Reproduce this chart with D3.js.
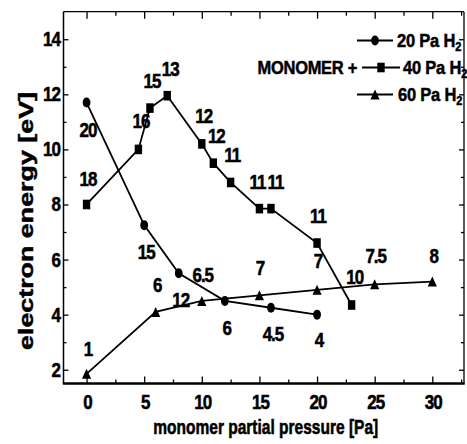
<!DOCTYPE html>
<html><head><meta charset="utf-8">
<script src="https://cdn.jsdelivr.net/npm/d3@7"></script>
<style>
html,body{margin:0;padding:0;background:#fff;}
svg{display:block;}
text{font-family:"Liberation Sans",Arial,sans-serif;font-weight:bold;fill:#000;stroke:#000;stroke-width:0.45px;}
</style></head><body>
<svg id="chart" width="467" height="444"></svg>
<script>
// Monomer partial pressure [Pa] and electron energy [eV] for each H2 pressure
const press20 = [0, 5, 8, 12, 16, 20];
const energy20 = [11.7, 7.25, 5.5, 4.5, 4.25, 4.0];
const tags20 = ["20", "15", "6.5", "6", "4.5", "4"];

const press40 = [0, 4.5, 5.5, 7, 10, 11, 12.5, 15, 16, 20, 23];
const energy40 = [8.0, 10.0, 11.5, 11.95, 10.2, 9.5, 8.8, 7.85, 7.85, 6.6, 4.35];
const tags40 = ["18", "16", "15", "13", "12", "12", "11", "11", "11", "11", "10"];

const press60 = [0, 6, 10, 15, 20, 25, 30];
const energy60 = [1.85, 4.1, 4.5, 4.7, 4.9, 5.1, 5.2];
const tags60 = ["1", "6", "12", "7", "7", "7.5", "8"];

const seriesNames = ["20 Pa H", "40 Pa H", "60 Pa H"];
const xTickValues = [0, 5, 10, 15, 20, 25, 30];
const xMinorValues = [2.5, 7.5, 12.5, 17.5, 22.5, 27.5, 32.5];
const yTickValues = [2, 4, 6, 8, 10, 12, 14];
const yMinorValues = [3, 5, 7, 9, 11, 13];

// label placement relative to each point, in pixels [dx, dy]
const tagShift20 = [[1.5, 34], [2, 34], [24, 8.5], [2, 34], [2, 33.5], [2, 32.5]];
const tagShift40 = [[1.5, -18], [2.5, -21.5], [2, -20], [3, -20], [2, -21], [3, -20],
                    [1.5, -20.5], [-2, -19.5], [4.5, -19.5], [1, -20], [3, -21]];
const tagShift60 = [[1.5, -17.5], [1.5, -20], [-21, 6], [0.5, -20], [1, -21.5], [1, -21], [1.5, -19]];

const svg = d3.select("#chart");
const L = 63.5, R = 464, T = 11.7, B = 383.5;
const x = d3.scaleLinear().domain([-2, 32.75]).range([L, R]);
const y = d3.scaleLinear().domain([1.5, 15]).range([B, T]);

function txt(g, px, py, str, o = {}) {
  const t = g.append("text")
    .attr("transform", `translate(${px},${py}) scale(1,${o.sy || 1.18})`)
    .attr("text-anchor", o.anchor || "middle")
    .style("font-size", (o.size || 17) + "px")
    .style("letter-spacing", (o.ls !== undefined ? o.ls : -1) + "px");
  t.text(str);
  return t;
}

// ticks on all four sides, pointing inward
function ticks(axis, values, size, transform) {
  const g = svg.append("g").attr("transform", transform)
    .call(axis.tickValues(values).tickSize(-size).tickSizeOuter(0).tickFormat(""));
  g.select(".domain").remove();
  g.selectAll(".tick line").attr("stroke", "#000").attr("stroke-width", 1.3);
}
ticks(d3.axisBottom(x), xTickValues, 7, `translate(0,${B})`);
ticks(d3.axisBottom(x), xMinorValues, 4, `translate(0,${B})`);
ticks(d3.axisTop(x), xTickValues, 7, `translate(0,${T})`);
ticks(d3.axisTop(x), xMinorValues, 4, `translate(0,${T})`);
ticks(d3.axisLeft(y), yTickValues, 5, `translate(${L},0)`);
ticks(d3.axisLeft(y), yMinorValues, 3, `translate(${L},0)`);
ticks(d3.axisRight(y), yTickValues, 5, `translate(${R},0)`);
ticks(d3.axisRight(y), yMinorValues, 3, `translate(${R},0)`);

// frame
const frame = svg.append("g").attr("stroke", "#000").attr("fill", "none");
frame.append("line").attr("x1", L).attr("x2", L).attr("y1", T).attr("y2", B).attr("stroke-width", 1.5);
frame.append("line").attr("x1", R).attr("x2", R).attr("y1", T).attr("y2", B).attr("stroke-width", 1.3);
frame.append("line").attr("x1", L).attr("x2", R).attr("y1", T).attr("y2", T).attr("stroke-width", 1.3);
frame.append("line").attr("x1", L - 0.7).attr("x2", R + 0.7).attr("y1", B).attr("y2", B).attr("stroke-width", 2.4);

// tick labels
const tl = svg.append("g");
xTickValues.forEach(v => txt(tl, x(v) + 1, B + 25.5, String(v)));
yTickValues.forEach(v => txt(tl, L - 3.5, y(v) + 7, String(v), { anchor: "end" }));

// axis titles
svg.append("text")
  .attr("x", (L + R) / 2 + 2).attr("y", 434)
  .attr("text-anchor", "middle")
  .attr("transform", "translate(0,434) scale(1,1.3) translate(0,-434)")
  .attr("textLength", 225).attr("lengthAdjust", "spacingAndGlyphs")
  .style("font-size", "16px")
  .text("monomer partial pressure [Pa]");
svg.append("text")
  .attr("transform", "translate(32.5,221) rotate(-90)")
  .attr("text-anchor", "middle")
  .attr("textLength", 258).attr("lengthAdjust", "spacingAndGlyphs")
  .style("font-size", "20px")
  .text("electron energy [eV]");

// marker shapes
function marker(g, kind, px, py) {
  if (kind === "circle") {
    g.append("ellipse").attr("cx", px).attr("cy", py).attr("rx", 3.9).attr("ry", 5);
  } else if (kind === "square") {
    g.append("rect").attr("x", px - 3.7).attr("y", py - 4.8).attr("width", 7.4).attr("height", 9.6);
  } else {
    g.append("path").attr("d", `M${px},${py - 5}L${px + 4.6},${py + 5}L${px - 4.6},${py + 5}Z`);
  }
}

const line = d3.line().x(d => x(d[0])).y(d => y(d[1]));
const series = [
  { px: press20, en: energy20, tags: tags20, shift: tagShift20, kind: "circle" },
  { px: press40, en: energy40, tags: tags40, shift: tagShift40, kind: "square" },
  { px: press60, en: energy60, tags: tags60, shift: tagShift60, kind: "triangle" }
];
series.forEach(s => {
  const pts = s.px.map((p, i) => [p, s.en[i]]);
  svg.append("path").datum(pts).attr("d", line)
    .attr("fill", "none").attr("stroke", "#000").attr("stroke-width", 1.8);
  const mg = svg.append("g").attr("fill", "#000");
  pts.forEach(d => marker(mg, s.kind, x(d[0]), y(d[1])));
  const lg = svg.append("g");
  pts.forEach((d, i) => txt(lg, x(d[0]) + s.shift[i][0], y(d[1]) + s.shift[i][1], s.tags[i]));
});

// legend
const lgd = svg.append("g");
const rows = [
  { kind: "circle", base: 47, x1: 357, x2: 393, tx: 397 },
  { kind: "square", base: 74, x1: 362, x2: 400, tx: 403 },
  { kind: "triangle", base: 101, x1: 357, x2: 393, tx: 398 }
];
rows.forEach((r, i) => {
  const ly = r.base - 6.5;
  lgd.append("line").attr("x1", r.x1).attr("x2", r.x2).attr("y1", ly).attr("y2", ly)
    .attr("stroke", "#000").attr("stroke-width", 1.8);
  const mg = lgd.append("g").attr("fill", "#000");
  marker(mg, r.kind, (r.x1 + r.x2) / 2, ly);
  const t = lgd.append("text")
    .attr("transform", `translate(${r.tx},${r.base}) scale(1,1.12)`)
    .style("font-size", "16.5px").style("letter-spacing", "-0.2px");
  t.append("tspan").text(seriesNames[i]);
  t.append("tspan").attr("dy", 4).style("font-size", "11px").text("2");
});
txt(lgd, 357, 74, "MONOMER +", { anchor: "end", sy: 1.12, size: 16.5, ls: -0.3 });
</script></body></html>
